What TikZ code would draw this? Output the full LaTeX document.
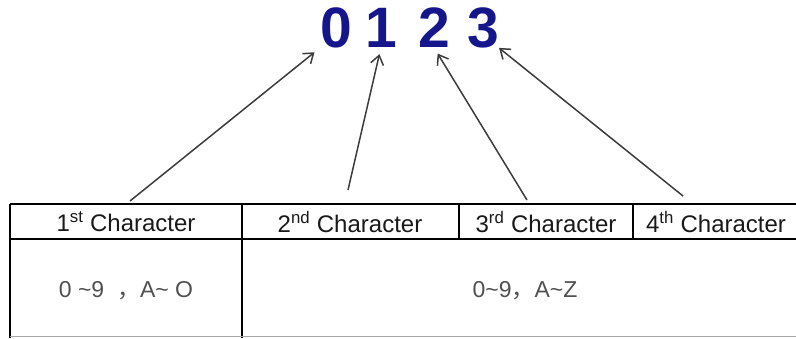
\documentclass[tikz,border=0pt]{standalone}
\usepackage{fontspec}
\setmainfont{Liberation Sans}
\newfontfamily\cjk{Noto Sans CJK SC}
\usepackage{tikz}
\usetikzlibrary{arrows.meta,positioning,calc}
\definecolor{digitblue}{RGB}{22,22,140}
\definecolor{arrowgray}{RGB}{60,60,60}
\definecolor{bodygray}{RGB}{80,80,80}

\begin{document}
\begin{tikzpicture}[x=1pt,y=-1pt,
    digit/.style={font=\fontsize{57}{57}\selectfont\bfseries, text=digitblue, inner sep=0pt},
    head/.style={font=\fontsize{24}{24}\selectfont, text=black!90, inner sep=0pt},
    body/.style={font=\fontsize{23}{23}\selectfont, text=bodygray, inner sep=0pt},
    rule/.style={line width=2.3pt, black},
    pointer/.style={line width=1.5pt, arrowgray, -{Straight Barb[length=9pt,width=13pt,line width=1.5pt]}}]
    \useasboundingbox (0,0) rectangle (796,338);

    % the four code digits
    \node [digit] (d0) at (336,27.5) {0};
    \node [digit] (d1) at (381,27.5) {1};
    \node [digit] (d2) at (434,27.5) {2};
    \node [digit] (d3) at (483,27.5) {3};

    % table lines
    \draw [rule] (10,204) -- (796,204);
    \draw [rule] (10,239) -- (796,239);
    \draw [rule] (10,204) -- (10,338);
    \draw [rule] (242,204) -- (242,338);
    \draw [rule] (459,204) -- (459,239);
    \draw [rule] (633,204) -- (633,239);
    \draw [line width=1pt, black!35] (10,336) -- (796,336);

    \node [head] (c1) at (126,222) {1\textsuperscript{st} Character};
    \node [head] (c2) at (350,222) {2\textsuperscript{nd} Character};
    \node [head] (c3) at (546,222) {3\textsuperscript{rd} Character};
    \node [head] (c4) at (716,222) {4\textsuperscript{th} Character};

    \node [body] (r1) at (126,291) {0 \char`\~9 \ {\cjk ，}A\char`\~\ O};
    \node [body] (r2) at (525,291) {0\char`\~9{\cjk ，}A\char`\~Z};

    % arrows from the header up to the digits
    \coordinate (t0) at (130,201);
    \coordinate (t1) at (348,190);
    \coordinate (t2) at (527,200);
    \coordinate (t3) at (683,196);
    \draw [pointer, shorten >=7pt] (t0) -- (d0.south west);
    \draw [pointer, shorten >=7pt] (t1) -- (d1.south);
    \draw [pointer, shorten >=7pt] (t2) -- (d2.south);
    \draw [pointer] (t3) -- (d3.south east);
\end{tikzpicture}
\end{document}
